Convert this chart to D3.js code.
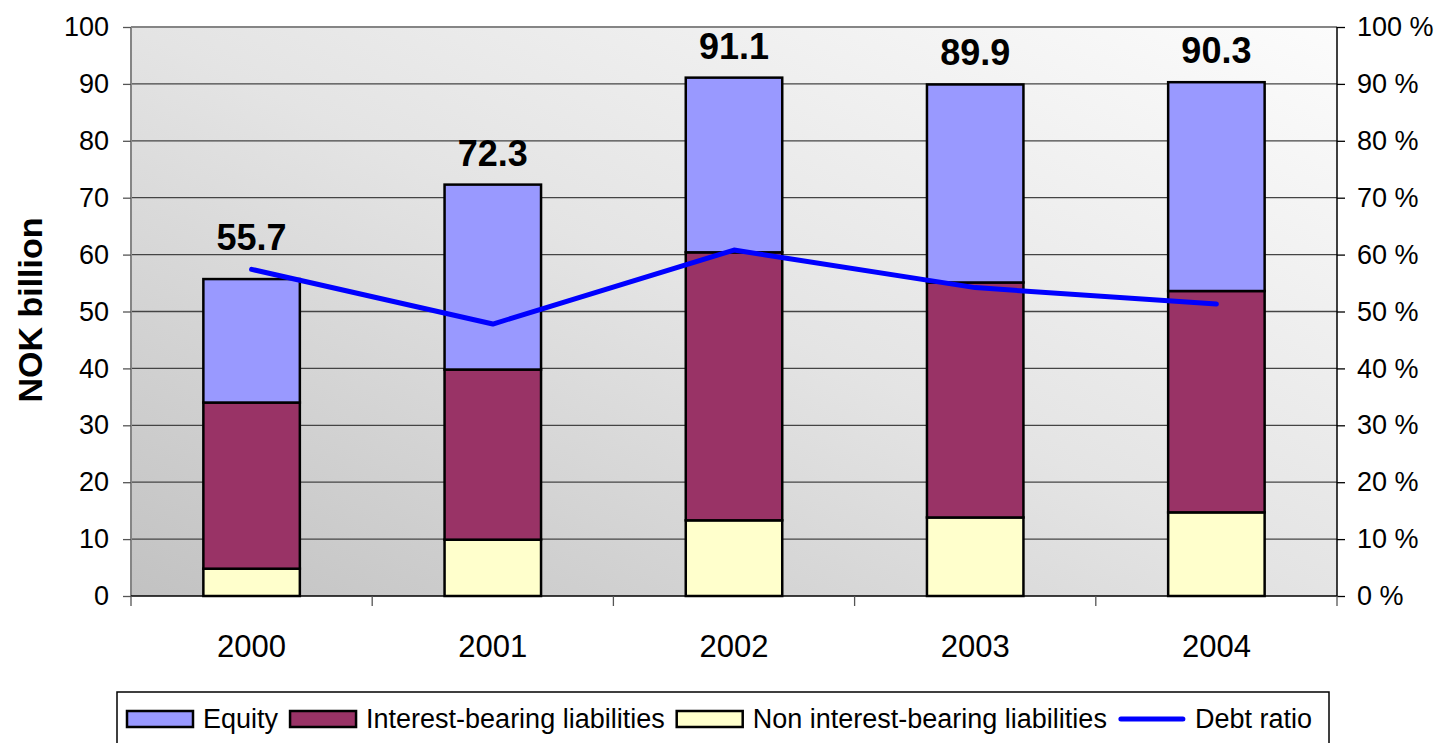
<!DOCTYPE html>
<html>
<head>
<meta charset="utf-8">
<script src="https://cdn.jsdelivr.net/npm/d3@7"></script>
<style>
  html, body { margin: 0; padding: 0; background: #ffffff; }
  svg { display: block; font-family: "Liberation Sans", Arial, sans-serif; }
</style>
</head>
<body>
<svg id="chart" width="1438" height="743"></svg>
<script>
// Balance sheet composition, NOK billion, with debt ratio on the right axis
const years = ["2000", "2001", "2002", "2003", "2004"];
const nonInterestBearing = [4.8, 9.9, 13.3, 13.8, 14.7];
const interestBearing = [29.2, 29.9, 47.1, 41.3, 38.9];
const equity = [21.7, 32.5, 30.7, 34.8, 36.7];
const debtRatio = [57.4, 47.8, 60.8, 54.2, 51.3];           // percent
const leftTicks = [0, 10, 20, 30, 40, 50, 60, 70, 80, 90, 100];
const rightTicks = [0, 10, 20, 30, 40, 50, 60, 70, 80, 90, 100];

const seriesNames = {
  equity: "Equity",
  interest: "Interest-bearing liabilities",
  nonInterest: "Non interest-bearing liabilities",
  ratio: "Debt ratio"
};
const colors = {
  equity: "#9999ff",
  interest: "#993366",
  nonInterest: "#ffffcc",
  ratio: "#0000ff"
};

const rows = years.map((y, i) => ({
  year: y,
  nonInterest: nonInterestBearing[i],
  interest: interestBearing[i],
  equity: equity[i],
  ratio: debtRatio[i]
}));

const svg = d3.select("#chart");
const plot = { left: 131, right: 1337, top: 27, bottom: 596 };

const x = d3.scaleBand().domain(years).range([plot.left, plot.right]).padding(0);
const y = d3.scaleLinear().domain([0, 100]).range([plot.bottom, plot.top]);
const y2 = d3.scaleLinear().domain([0, 100]).range([plot.bottom, plot.top]);
const barWidth = x.bandwidth() * 0.4;

// Plot area background: diagonal grey gradient
const defs = svg.append("defs");
const grad = defs.append("linearGradient")
  .attr("id", "plotBg")
  .attr("x1", 0).attr("y1", 1).attr("x2", 1).attr("y2", 0);
grad.append("stop").attr("offset", 0).attr("stop-color", "#c2c2c2");
grad.append("stop").attr("offset", 0.5).attr("stop-color", "#e4e4e4");
grad.append("stop").attr("offset", 1).attr("stop-color", "#fcfcfc");

svg.append("rect")
  .attr("x", plot.left).attr("y", plot.top)
  .attr("width", plot.right - plot.left).attr("height", plot.bottom - plot.top)
  .attr("fill", "url(#plotBg)");

// Horizontal gridlines
svg.append("g")
  .selectAll("line")
  .data(leftTicks.filter(t => t > 0 && t < 100))
  .join("line")
  .attr("x1", plot.left).attr("x2", plot.right)
  .attr("y1", d => y(d)).attr("y2", d => y(d))
  .attr("stroke", "#444").attr("stroke-width", 1.3);

// Top and left plot border
svg.append("line")
  .attr("x1", plot.left).attr("x2", plot.right)
  .attr("y1", plot.top).attr("y2", plot.top)
  .attr("stroke", "#858585").attr("stroke-width", 2);
svg.append("line")
  .attr("x1", plot.left).attr("x2", plot.left)
  .attr("y1", plot.top).attr("y2", plot.bottom)
  .attr("stroke", "#858585").attr("stroke-width", 2);

// Stacked bars
const stack = d3.stack().keys(["nonInterest", "interest", "equity"]);
const stacked = stack(rows);

svg.append("g")
  .selectAll("g")
  .data(stacked)
  .join("g")
  .attr("fill", d => colors[d.key])
  .selectAll("rect")
  .data(d => d)
  .join("rect")
  .attr("x", d => x(d.data.year) + (x.bandwidth() - barWidth) / 2)
  .attr("width", barWidth)
  .attr("y", d => y(d[1]))
  .attr("height", d => y(d[0]) - y(d[1]))
  .attr("stroke", "#000")
  .attr("stroke-width", 2.5);

// Left axis
const leftAxis = svg.append("g")
  .attr("transform", `translate(${plot.left},0)`)
  .call(d3.axisLeft(y).tickValues(leftTicks).tickSize(8).tickPadding(14).tickFormat(d3.format("d")));
leftAxis.select(".domain").remove();
leftAxis.selectAll(".tick line").attr("stroke", "#555").attr("stroke-width", 1.3);
leftAxis.selectAll(".tick text")
  .attr("font-size", 27).attr("fill", "#000")
  .attr("font-family", "Liberation Sans, Arial, sans-serif");

// Right axis (debt ratio)
const rightAxis = svg.append("g")
  .attr("transform", `translate(${plot.right},0)`)
  .call(d3.axisRight(y2).tickValues(rightTicks).tickSize(8).tickPadding(12).tickFormat(d => d + " %"));
rightAxis.select(".domain").attr("stroke", "#000").attr("stroke-width", 1.5)
  .attr("d", `M0,${plot.top}V${plot.bottom}`);
rightAxis.selectAll(".tick line").attr("stroke", "#000").attr("stroke-width", 1.3);
rightAxis.selectAll(".tick text")
  .attr("font-size", 27).attr("fill", "#000")
  .attr("font-family", "Liberation Sans, Arial, sans-serif");

// Bottom axis: baseline, category separators and year labels
svg.append("line")
  .attr("x1", plot.left).attr("x2", plot.right)
  .attr("y1", plot.bottom).attr("y2", plot.bottom)
  .attr("stroke", "#000").attr("stroke-width", 1.5);
const sepX = years.map(yr => x(yr)).concat([plot.right]);
svg.append("g")
  .selectAll("line")
  .data(sepX)
  .join("line")
  .attr("x1", d => d).attr("x2", d => d)
  .attr("y1", plot.bottom).attr("y2", plot.bottom + 10)
  .attr("stroke", "#555").attr("stroke-width", 1.3);
svg.append("g")
  .selectAll("text")
  .data(years)
  .join("text")
  .attr("x", d => x(d) + x.bandwidth() / 2)
  .attr("y", 657)
  .attr("text-anchor", "middle")
  .attr("font-size", 31)
  .text(d => d);

// Debt ratio line
const line = d3.line()
  .x(d => x(d.year) + x.bandwidth() / 2)
  .y(d => y2(d.ratio));
svg.append("path")
  .datum(rows)
  .attr("d", line)
  .attr("fill", "none")
  .attr("stroke", colors.ratio)
  .attr("stroke-width", 5)
  .attr("stroke-linejoin", "round")
  .attr("stroke-linecap", "round");

// Total value labels, placed above the highest mark in each category
const fmt = d3.format(".1f");
svg.append("g")
  .selectAll("text")
  .data(rows)
  .join("text")
  .attr("x", d => x(d.year) + x.bandwidth() / 2)
  .attr("y", d => Math.min(y(d.nonInterest + d.interest + d.equity), y2(d.ratio)) - 19)
  .attr("text-anchor", "middle")
  .attr("font-size", 36)
  .attr("font-weight", "bold")
  .text(d => fmt(d.nonInterest + d.interest + d.equity));

// Y axis title
svg.append("text")
  .attr("transform", "translate(42,310) rotate(-90)")
  .attr("text-anchor", "middle")
  .attr("font-size", 34)
  .attr("font-weight", "bold")
  .text("NOK billion");

// Legend
const legend = svg.append("g");
legend.append("rect")
  .attr("x", 117).attr("y", 692)
  .attr("width", 1212).attr("height", 70)
  .attr("fill", "#fff").attr("stroke", "#000").attr("stroke-width", 1.5);

const legendItems = ["equity", "interest", "nonInterest", "ratio"];
let lx = 127;
const ly = 719;
legendItems.forEach(key => {
  const g = legend.append("g");
  if (key === "ratio") {
    g.append("line")
      .attr("x1", lx + 2).attr("x2", lx + 64)
      .attr("y1", ly).attr("y2", ly)
      .attr("stroke", colors.ratio).attr("stroke-width", 5)
      .attr("stroke-linecap", "round");
  } else {
    g.append("rect")
      .attr("x", lx).attr("y", ly - 8)
      .attr("width", 66).attr("height", 16)
      .attr("fill", colors[key]).attr("stroke", "#000").attr("stroke-width", 2.5);
  }
  const t = g.append("text")
    .attr("x", lx + 76).attr("y", ly + 9)
    .attr("font-size", 27)
    .text(seriesNames[key]);
  lx = lx + 76 + t.node().getComputedTextLength() + 12;
});
</script>
</body>
</html>
